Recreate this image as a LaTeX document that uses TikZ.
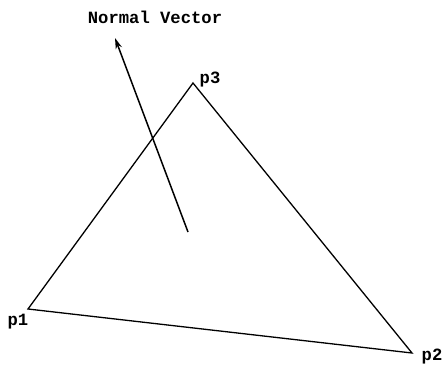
\documentclass[tikz,border=0pt]{standalone}
\usepackage{fontspec}
\setmonofont{Liberation Mono}
\usetikzlibrary{arrows.meta}
\begin{document}
\begin{tikzpicture}[x=1pt,y=-1pt,
  lbl/.style={font=\ttfamily\bfseries\fontsize{17.2}{19}\selectfont, inner sep=0pt},
  edge/.style={line width=1.3pt},
  vec/.style={line width=1.5pt, -{Stealth[length=11pt,width=6.5pt]}}]
\useasboundingbox (0,0) rectangle (447,365);
\coordinate (p1) at (28,309);
\coordinate (p2) at (412,353);
\coordinate (p3) at (193,83);
\coordinate (tail) at (188,232);
\coordinate (tip) at (115,38);
\draw[edge] (p1) -- (p2) -- (p3) -- cycle;
\draw[vec] (tail) -- (tip);
\node[lbl] (lt) at (155,17) {Normal Vector};
\node[lbl] (l3) at (210,80) {p3};
\node[lbl] (l1) at (18,322) {p1};
\node[lbl] (l2) at (432,357) {p2};
\end{tikzpicture}
\end{document}
